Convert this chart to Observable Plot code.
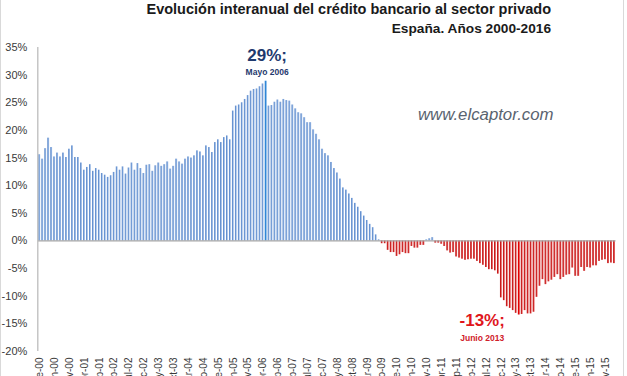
<!DOCTYPE html>
<html><head><meta charset="utf-8">
<script src="https://cdn.jsdelivr.net/npm/d3@7"></script>
<script src="https://cdn.jsdelivr.net/npm/@observablehq/plot@0.6"></script>
<style>
html,body{margin:0;padding:0;background:#fff;}
#wrap{position:relative;width:627px;height:376px;overflow:hidden;font-family:"Liberation Sans",Arial,sans-serif;background:#fff;}
#title{position:absolute;right:76px;top:0px;text-align:right;font-weight:bold;color:#1a1a1a;line-height:19px;white-space:nowrap}
#t1{font-size:14.5px}
#t2{font-size:13.7px}
#chart{position:absolute;left:0;top:40px;}
#chart svg{overflow:hidden;}
#wm{position:absolute;left:418px;top:105px;font-style:italic;font-size:16.8px;color:#59636f;white-space:nowrap}
.edge{position:absolute;top:0;bottom:0;width:1px;background:#d9d9d9}
</style></head><body>
<div id="wrap">
<div id="title"><div id="t1">Evolución interanual del crédito bancario al sector privado</div><div id="t2">España. Años 2000-2016</div></div>
<div id="chart"></div>
<div id="wm">www.elcaptor.com</div>
<div class="edge" style="left:0"></div><div class="edge" style="left:623px"></div>
</div>
<svg width="0" height="0" style="position:absolute;left:0;top:0"><defs>
<linearGradient id="gBlue" x1="0" x2="1" y1="0" y2="0"><stop offset="0" stop-color="#4a7cc4"/><stop offset="1" stop-color="#a9c5ec"/></linearGradient>
<linearGradient id="gRed" x1="0" x2="1" y1="0" y2="0"><stop offset="0" stop-color="#b80000"/><stop offset="1" stop-color="#e85a5a"/></linearGradient>
</defs></svg>
<script>
// Tasa de variación interanual del crédito al sector privado (%), ene-2000 a feb-2016
const credito = [
15.6,14.8,16.7,18.6,16.9,15.2,15.9,15.2,15.9,15.1,16.6,17.2,
15.1,15.1,14.1,12.8,13.3,13.8,12.6,13.1,12.8,12.2,11.9,11.5,
11.8,12.4,13.4,12.8,13.4,12.1,13.2,14.1,12.8,14.0,13.1,12.2,
13.7,13.8,12.6,13.6,14.1,13.5,13.8,14.3,13.0,13.5,14.8,14.3,
13.9,14.8,15.2,15.0,15.4,16.3,16.1,15.4,17.2,16.9,16.0,17.8,
18.3,17.8,18.7,19.0,18.3,23.5,24.4,24.6,25.0,25.6,26.3,27.1,
27.4,27.5,27.9,28.4,28.9,24.4,24.5,25.1,25.5,25.1,25.6,25.4,
25.3,24.6,23.9,23.2,23.0,22.3,21.4,21.4,20.1,19.3,18.3,16.6,
15.8,15.4,14.2,13.1,12.3,11.2,9.6,9.2,8.5,7.7,6.8,6.1,
5.3,4.5,3.7,3.0,2.4,1.1,0.2,-0.5,-0.5,-1.7,-2.1,-2.1,
-2.8,-2.5,-2.1,-2.3,-2.3,-1.0,-1.3,-1.3,-0.8,-0.8,0.2,0.4,
0.6,-0.4,-0.4,-0.6,-1.0,-1.8,-2.2,-2.1,-2.9,-3.1,-3.3,-3.5,
-3.4,-3.3,-3.3,-3.7,-4.1,-4.4,-4.8,-5.2,-5.2,-5.4,-6.0,-10.3,
-10.8,-11.9,-12.2,-12.6,-13.1,-13.4,-13.3,-12.6,-13.2,-13.2,-12.9,-10.2,
-8.2,-7.0,-7.9,-7.4,-7.1,-6.6,-6.1,-7.0,-6.6,-6.2,-6.1,-4.9,
-6.4,-6.4,-4.8,-5.5,-4.8,-4.9,-4.5,-4.5,-3.7,-3.5,-3.4,-4.1,
-4.0,-4.1
];
const mesesCortos = ["ene","feb","mar","abr","may","jun","jul","ago","sep","oct","nov","dic"];
const mesesLargos = ["Enero","Febrero","Marzo","Abril","Mayo","Junio","Julio","Agosto","Septiembre","Octubre","Noviembre","Diciembre"];
const anioInicio = 2000;
const tickLabels = ["ene-00","jun-00","nov-00","abr-01","sep-01","feb-02","jul-02","dic-02","may-03","oct-03",
"mar-04","ago-04","ene-05","jun-05","nov-05","abr-06","sep-06","feb-07","jul-07","dic-07","may-08","oct-08",
"mar-09","ago-09","ene-10","jun-10","nov-10","abr-11","sep-11","feb-12","jul-12","dic-12","may-13","oct-13",
"mar-14","ago-14","ene-15","jun-15","nov-15"];
const yTicks = [-20,-15,-10,-5,0,5,10,15,20,25,30,35];

const data = credito.map((v, i) => {
  const m = i % 12, y = Math.floor(i / 12);
  return {i, v, mes: mesesCortos[m] + "-" + String(y).padStart(2, "0"),
          largo: mesesLargos[m] + " " + (anioInicio + y)};
});
const peakI = d3.maxIndex(credito);
const troughI = d3.minIndex(credito);
const peak = [data[peakI]], trough = [data[troughI]];

const yAxisLine = (index, scales, values, dims) =>
  d3.create("svg:line")
    .attr("x1", dims.marginLeft).attr("x2", dims.marginLeft)
    .attr("y1", scales.y(yTicks[yTicks.length - 1])).attr("y2", scales.y(yTicks[0]))
    .attr("stroke", "#bdbdbd").attr("stroke-width", 1.3).node();

const chart = Plot.plot({
  width: 627, height: 336,
  marginTop: 7, marginBottom: 25, marginLeft: 37.8, marginRight: 11.5,
  style: {fontFamily: "Liberation Sans, Arial, sans-serif", background: "transparent", overflow: "hidden"},
  x: {type: "band", domain: data.map(d => d.mes), paddingInner: 0.4, paddingOuter: 0.2},
  y: {domain: [yTicks[0], yTicks[yTicks.length - 1]]},
  marks: [
    Plot.barY(data, {filter: d => d.v >= 0 && d.i !== peakI, x: "mes", y: "v", fill: "url(#gBlue)"}),
    Plot.barY(data, {filter: d => d.i === peakI, x: "mes", y: "v", fill: "#2f86d6"}),
    Plot.barY(data, {filter: d => d.v < 0 && d.i !== troughI, x: "mes", y: "v", fill: "url(#gRed)"}),
    Plot.barY(data, {filter: d => d.i === troughI, x: "mes", y: "v", fill: "#e00000"}),
    Plot.ruleY([0], {stroke: "#a6a6a6", strokeWidth: 1.3}),
    yAxisLine,
    Plot.axisY({ticks: yTicks, tickFormat: d => d + "%", tickSize: 0, tickPadding: 11, fontSize: 11, fill: "#3a3a3a", label: null}),
    Plot.axisX({ticks: tickLabels, tickRotate: -90, tickSize: 0, tickPadding: 6, fontSize: 10, fill: "#3a3a3a", label: null}),
    Plot.text(peak, {x: "mes", y: "v", text: d => Math.round(d.v) + "%;", dx: 1, dy: -26, fontSize: 17, fontWeight: "bold", fill: "#1f3a6e"}),
    Plot.text(peak, {x: "mes", y: "v", text: "largo", dx: 1, dy: -9, fontSize: 8.5, fontWeight: "bold", fill: "#1f3a6e"}),
    Plot.text(trough, {x: "mes", y: "v", text: d => Math.round(d.v) + "%;", dx: -37, dy: 6, fontSize: 17, fontWeight: "bold", fill: "#e0161c"}),
    Plot.text(trough, {x: "mes", y: "v", text: "largo", dx: -37, dy: 23, fontSize: 8.5, fontWeight: "bold", fill: "#d0202a"})
  ]
});
document.getElementById("chart").appendChild(chart);
</script>
</body></html>
